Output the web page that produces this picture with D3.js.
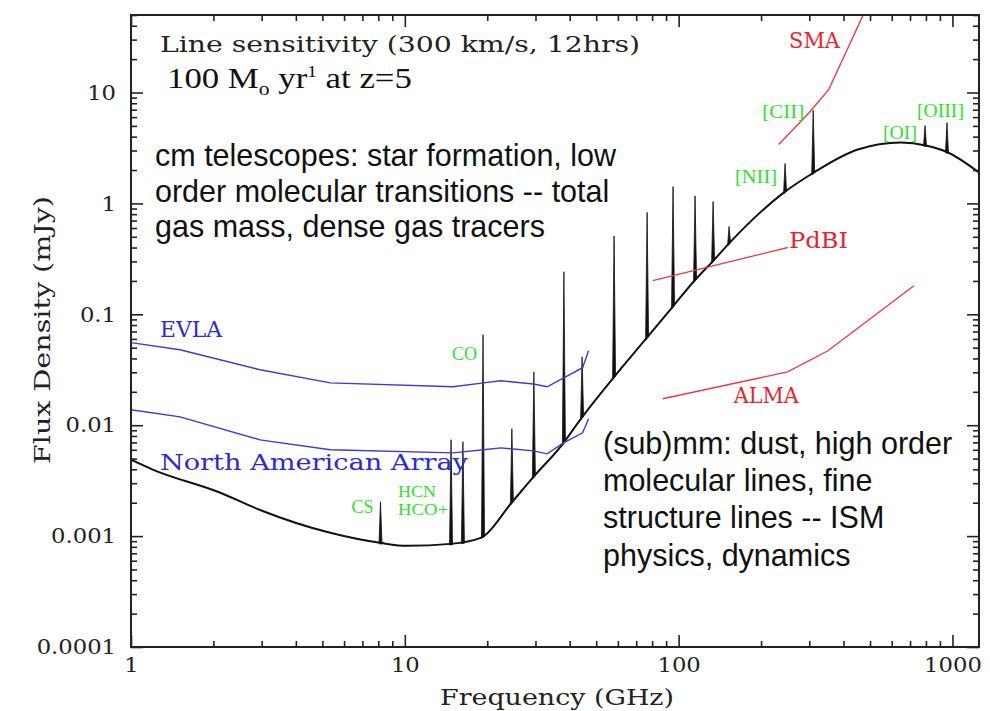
<!DOCTYPE html>
<html>
<head>
<meta charset="utf-8">
<script src="https://cdn.jsdelivr.net/npm/d3@7"></script>
<style>
  html, body { margin: 0; padding: 0; background: #fff; }
  svg { display: block; }
</style>
</head>
<body>
<svg id="chart" width="990" height="711"></svg>
<script>
// ---- data -------------------------------------------------------------
// Continuum (dust + free-free/synchrotron) of a 100 Msun/yr galaxy at z=5
const contFreq = [1, 1.2, 2.12, 2.96, 5.34, 8.13, 10.2, 14.7, 18.9, 24.7, 29.5, 37.0, 44.5,
                  57.8, 77.1, 95.9, 115, 134, 153.7, 242, 312, 451, 649, 800, 963, 1250];
const contFlux = [0.00488, 0.00398, 0.00246, 0.00172, 0.00107, 0.000869, 0.000817, 0.000851,
                  0.000964, 0.00204, 0.00342, 0.00638, 0.0119, 0.0268, 0.0628, 0.120, 0.205,
                  0.305, 0.443, 1.25, 1.90, 3.06, 3.54, 3.33, 2.88, 1.90];

// Emission lines (observed frequency, peak flux)
const lineFreq = [8.15, 14.75, 16.3, 19.3, 24.6, 29.6, 38.1, 44.4, 58.1, 76.7, 95.4,
                  114.8, 133.6, 152.8, 244.7, 310, 794, 955];
const lineFlux = [0.00204, 0.0074, 0.0071, 0.0655, 0.0093, 0.0303, 0.242, 0.0414, 0.51,
                  0.83, 1.42, 1.17, 1.04, 0.62, 2.29, 6.9, 5.03, 5.36];

// Instrument sensitivities
const evlaFreq = [1, 1.51, 2.96, 5.34, 15.0, 19.4, 22.4, 29.5, 33.1, 44.6, 46.9];
const evlaFlux = [0.0555, 0.0479, 0.0316, 0.0241, 0.0222, 0.0241, 0.0252, 0.0235, 0.0222, 0.033, 0.0469];
const naaFreq  = [1, 1.51, 2.96, 5.34, 15.0, 19.4, 22.4, 29.5, 33.1, 38.0, 44.6, 46.9];
const naaFlux  = [0.01377, 0.0119, 0.00738, 0.006, 0.00563, 0.006, 0.00625, 0.00587, 0.00552,
                  0.00693, 0.00853, 0.01143];
const smaFreq  = [232, 300, 353, 472];
const smaFlux  = [3.4, 6.6, 10.6, 50];
const pdbiFreq = [80.4, 250.5];
const pdbiFlux = [0.201, 0.40];
const almaFreq = [87.4, 250, 351, 723];
const almaFlux = [0.0173, 0.0303, 0.0469, 0.181];

// Axis ticks
const xMajor = [1, 10, 100, 1000];
const xMajorLabels = ["1", "10", "100", "1000"];
const yMajor = [0.0001, 0.001, 0.01, 0.1, 1, 10];
const yMajorLabels = ["0.0001", "0.001", "0.01", "0.1", "1", "10"];

// Line identifications: name and the line (index into lineFreq) it marks
const idNames = ["CO", "CS", "HCN", "HCO+", "[NII]", "[CII]", "[OI]", "[OIII]"];
const idLine  = [3, 0, 1, 1, 14, 15, 16, 17];

(function draw() {
  const svg = d3.select("#chart");
  const pL = 131, pR = 979, pT = 15, pB = 647;

  const x = d3.scaleLog().domain([1, 1250]).range([pL, pR]);
  const y = d3.scaleLog().domain([1e-4, 50]).range([pB, pT]);

  const serif = "'DejaVu Serif', serif";
  const sans = "'Liberation Sans', Arial, sans-serif";
  const green = "#2fe02f", blue = "#2c2cd0", red = "#e8232f";

  svg.append("defs").append("clipPath").attr("id", "plotclip")
    .append("rect").attr("x", pL).attr("y", pT)
    .attr("width", pR - pL).attr("height", pB - pT);

  const plot = svg.append("g").attr("clip-path", "url(#plotclip)");

  // ---- continuum + emission lines ---------------------------------------
  const smooth = d3.line().x(d => x(d[0])).y(d => y(d[1])).curve(d3.curveMonotoneX);
  const contPath = plot.append("path")
    .datum(d3.zip(contFreq, contFlux))
    .attr("d", smooth)
    .attr("fill", "none").attr("stroke", "#111").attr("stroke-width", 2);

  // sample the drawn continuum so each line sits exactly on it
  const node = contPath.node();
  const total = node.getTotalLength();
  const samples = [];
  for (let l = 0; l <= total; l += 0.5) {
    const p = node.getPointAtLength(l);
    samples.push([p.x, p.y]);
  }
  const bis = d3.bisector(d => d[0]).left;
  function baseAt(px) {
    const i = Math.max(1, Math.min(samples.length - 1, bis(samples, px)));
    const a = samples[i - 1], b = samples[i];
    const t = b[0] === a[0] ? 0 : (px - a[0]) / (b[0] - a[0]);
    return a[1] + t * (b[1] - a[1]);
  }

  const half = 1.5;
  plot.append("g").selectAll("path")
    .data(d3.zip(lineFreq, lineFlux))
    .join("path")
    .attr("d", d => {
      const px = x(d[0]), py = y(d[1]);
      return `M${px - half},${baseAt(px - half) + 1}L${px},${py}L${px + half},${baseAt(px + half) + 1}Z`;
    })
    .attr("fill", "#111").attr("stroke", "#111").attr("stroke-width", 0.8);

  // ---- instrument curves ------------------------------------------------
  const straight = d3.line().x(d => x(d[0])).y(d => y(d[1]));
  function curve(fs, ss, color) {
    plot.append("path").datum(d3.zip(fs, ss))
      .attr("d", straight)
      .attr("fill", "none").attr("stroke", color).attr("stroke-width", 1.4);
  }
  curve(evlaFreq, evlaFlux, "#3a3ad6");
  curve(naaFreq, naaFlux, "#3a3ad6");
  curve(smaFreq, smaFlux, "#ea3a44");
  curve(pdbiFreq, pdbiFlux, "#ea3a44");
  curve(almaFreq, almaFlux, "#ea3a44");

  // ---- axes -------------------------------------------------------------
  const xMinor = x.ticks().filter(v => !xMajor.some(m => Math.abs(m - v) < 1e-9));
  const yMinor = y.ticks().filter(v => !yMajor.some(m => Math.abs(m - v) / m < 1e-6));

  function styleAxis(g) {
    g.select(".domain").remove();
    g.selectAll(".tick line").attr("stroke", "#222").attr("stroke-width", 1.6);
    g.selectAll(".tick text").attr("font-family", serif).attr("font-size", 21).attr("fill", "#222");
  }

  svg.append("g").attr("transform", `translate(0,${pB})`)
    .call(d3.axisBottom(x).tickValues(xMajor).tickSizeInner(-12).tickSizeOuter(0).tickPadding(10)
      .tickFormat((d, i) => xMajorLabels[i]))
    .call(styleAxis);
  svg.append("g").attr("transform", `translate(0,${pB})`)
    .call(d3.axisBottom(x).tickValues(xMinor).tickSizeInner(-6).tickSizeOuter(0).tickFormat(""))
    .call(styleAxis);
  svg.append("g").attr("transform", `translate(0,${pT})`)
    .call(d3.axisTop(x).tickValues(xMajor).tickSizeInner(-12).tickSizeOuter(0).tickFormat(""))
    .call(styleAxis);
  svg.append("g").attr("transform", `translate(0,${pT})`)
    .call(d3.axisTop(x).tickValues(xMinor).tickSizeInner(-6).tickSizeOuter(0).tickFormat(""))
    .call(styleAxis);

  svg.append("g").attr("transform", `translate(${pL},0)`)
    .call(d3.axisLeft(y).tickValues(yMajor).tickSizeInner(-12).tickSizeOuter(0).tickPadding(15)
      .tickFormat((d, i) => yMajorLabels[i]))
    .call(styleAxis);
  svg.append("g").attr("transform", `translate(${pL},0)`)
    .call(d3.axisLeft(y).tickValues(yMinor).tickSizeInner(-6).tickSizeOuter(0).tickFormat(""))
    .call(styleAxis);
  svg.append("g").attr("transform", `translate(${pR},0)`)
    .call(d3.axisRight(y).tickValues(yMajor).tickSizeInner(-12).tickSizeOuter(0).tickFormat(""))
    .call(styleAxis);
  svg.append("g").attr("transform", `translate(${pR},0)`)
    .call(d3.axisRight(y).tickValues(yMinor).tickSizeInner(-6).tickSizeOuter(0).tickFormat(""))
    .call(styleAxis);

  // stretch every tick label slightly wider (wide plotting font)
  svg.selectAll(".tick text").each(function () {
    const w = this.getComputedTextLength();
    d3.select(this).attr("textLength", w * 1.08).attr("lengthAdjust", "spacingAndGlyphs");
  });

  svg.append("rect").attr("x", pL).attr("y", pT)
    .attr("width", pR - pL).attr("height", pB - pT)
    .attr("fill", "none").attr("stroke", "#222").attr("stroke-width", 2);

  // wide serif text helper
  function wide(parent, txt, size, color, len) {
    return parent.append("text")
      .attr("font-family", serif).attr("font-size", size).attr("fill", color)
      .attr("textLength", len).attr("lengthAdjust", "spacingAndGlyphs")
      .text(txt);
  }

  // axis titles
  wide(svg, "Frequency (GHz)", 22, "#222", 234)
    .attr("x", 440).attr("y", 705);
  wide(svg, "Flux Density (mJy)", 22, "#222", 268)
    .attr("transform", "translate(50,464) rotate(-90)");

  // ---- annotations ------------------------------------------------------
  wide(svg, "Line sensitivity (300 km/s, 12hrs)", 23, "#222", 480)
    .attr("x", 160).attr("y", 52);

  const sfr = svg.append("text")
    .attr("font-family", "'Liberation Serif', 'Times New Roman', serif").attr("font-size", 29).attr("fill", "#111");
  sfr.append("tspan").text("100 M");
  sfr.append("tspan").attr("font-size", 18).attr("dy", 7).text("o");
  sfr.append("tspan").attr("dy", -7).text(" yr");
  sfr.append("tspan").attr("font-size", 16).attr("dy", -11).text("1");
  sfr.append("tspan").attr("dy", 11).text(" at z=5");
  const sw = sfr.node().getBBox().width;
  sfr.attr("transform", `translate(167,88) scale(${245 / sw},1)`);

  function block(lines, x0, y0, lh) {
    const t = svg.append("text").attr("font-family", sans).attr("font-size", 30.5).attr("fill", "#111");
    lines.forEach((s, i) => t.append("tspan").attr("x", x0).attr("y", y0 + i * lh).text(s));
  }
  block(["cm telescopes: star formation, low",
         "order molecular transitions -- total",
         "gas mass, dense gas tracers"], 155, 166, 35.5);
  block(["(sub)mm: dust, high order",
         "molecular lines, fine",
         "structure lines -- ISM",
         "physics, dynamics"], 603, 454, 37.2);

  // instrument names, anchored in data coordinates
  wide(svg, "EVLA", 22, blue, 62).attr("x", x(1.276)).attr("y", y(0.0624));
  wide(svg, "North American Array", 22, blue, 308).attr("x", x(1.276)).attr("y", y(0.00394));
  wide(svg, "SMA", 22, red, 51).attr("x", x(253)).attr("y", y(25.2));
  wide(svg, "PdBI", 22, red, 59).attr("x", x(253)).attr("y", y(0.396));
  wide(svg, "ALMA", 22, red, 65).attr("x", x(159)).attr("y", y(0.0158));

  // line identifications, placed beside the line they mark
  const idDx   = [-31, -29, -53, -53, -50, -51, -42, -30];
  const idDy   = [25, 11, 57, 75, 19.5, 7.6, 13.4, -5.6];
  const idLen  = [25, 22, 38, 50, 42, 42, 34, 47];
  const idSize = [19, 19, 16, 16, 19, 19, 19, 19];
  idNames.forEach((name, i) => {
    const k = idLine[i];
    wide(svg, name, idSize[i], green, idLen[i])
      .attr("font-family", "'Liberation Serif', serif")
      .attr("x", x(lineFreq[k]) + idDx[i]).attr("y", y(lineFlux[k]) + idDy[i]);
  });
})();
</script>
</body>
</html>
